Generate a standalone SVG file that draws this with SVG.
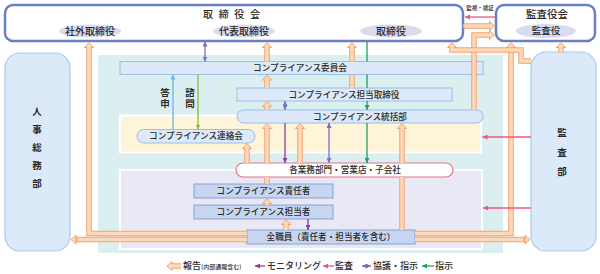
<svg xmlns="http://www.w3.org/2000/svg" width="600" height="274" viewBox="0 0 600 274">
<style>
text{font-family:'Noto Sans CJK JP','Noto Sans',sans-serif;fill:#2a2a2a;font-weight:500}
.m{text-anchor:middle}
.bar{fill:#dde9f8;stroke:#9ac0e4;stroke-width:1}
.bar2{fill:#c6d6f0;stroke:#8b9fd2;stroke-width:1}
.t{font-size:8.6px}
.side{fill:#dce9f8;stroke:#a8cbeb;stroke-width:1.2}
.vt{font-size:9.5px;font-weight:bold;text-anchor:middle}
.ell{fill:#dadbef}
.ro{fill:none;stroke:#f3a46c;stroke-width:5.5}
.ri{fill:none;stroke:#fdd8bb;stroke-width:3.5}
.hd{fill:#fdd8bb;stroke:#f3a46c;stroke-width:1}
.th{fill:none;stroke-width:1.3}
.lg{font-size:9px}
.vw{writing-mode:tb;font-size:9.5px;font-weight:bold;letter-spacing:1.5px}
</style>
<defs>
<marker id="mP" viewBox="0 0 6 6" refX="6" refY="3" markerWidth="5" markerHeight="5" markerUnits="userSpaceOnUse" orient="auto-start-reverse"><path d="M0,0 L6,3 L0,6 z" fill="#8d3d9b"/></marker>
<marker id="mV" viewBox="0 0 6 6" refX="6" refY="3" markerWidth="5" markerHeight="5" markerUnits="userSpaceOnUse" orient="auto-start-reverse"><path d="M0,0 L6,3 L0,6 z" fill="#7d6fbd"/></marker>
<marker id="mK" viewBox="0 0 6 6" refX="6" refY="3" markerWidth="5" markerHeight="5" markerUnits="userSpaceOnUse" orient="auto-start-reverse"><path d="M0,0 L6,3 L0,6 z" fill="#e8588a"/></marker>
<marker id="mG" viewBox="0 0 6 6" refX="6" refY="3" markerWidth="5" markerHeight="5" markerUnits="userSpaceOnUse" orient="auto-start-reverse"><path d="M0,0 L6,3 L0,6 z" fill="#1fa065"/></marker>
<marker id="mY" viewBox="0 0 6 6" refX="6" refY="3" markerWidth="5" markerHeight="5" markerUnits="userSpaceOnUse" orient="auto-start-reverse"><path d="M0,0 L6,3 L0,6 z" fill="#7fbf3f"/></marker>
<marker id="mB" viewBox="0 0 6 6" refX="6" refY="3" markerWidth="5" markerHeight="5" markerUnits="userSpaceOnUse" orient="auto-start-reverse"><path d="M0,0 L6,3 L0,6 z" fill="#6cb6e6"/></marker>
</defs>

<!-- background areas -->
<rect x="98" y="55" width="405" height="198" fill="#dbeef0"/>
<rect x="120" y="115.5" width="361" height="37" fill="#fdf4da" stroke="#fff" stroke-width="2"/>
<rect x="120" y="170" width="362" height="79" fill="#e9e9f5" stroke="#fff" stroke-width="2"/>

<g id="board">
<rect x="5" y="5" width="458" height="36" rx="8" fill="#fff" stroke="#6b80c4" stroke-width="2.5"/>
<text x="203" y="17.6" font-size="10" letter-spacing="1.7">取 締 役 会</text>
<ellipse class="ell" cx="90" cy="31" rx="31" ry="6.5"/>
<text class="m" x="90" y="34.6" font-size="10">社外取締役</text>
<ellipse class="ell" cx="244" cy="31" rx="31" ry="6.5"/>
<text class="m" x="244" y="34.6" font-size="10">代表取締役</text>
<ellipse class="ell" cx="391" cy="31" rx="31" ry="6.5"/>
<text class="m" x="391" y="34.6" font-size="10">取締役</text>
</g>
<g id="audit-board">
<rect x="496" y="5" width="99" height="36" rx="8" fill="#fff" stroke="#6b80c4" stroke-width="2.5"/>
<text class="m" x="547" y="17.8" font-size="10.5">監査役会</text>
<ellipse class="ell" cx="546" cy="31" rx="30" ry="7"/>
<text class="m" x="546" y="34.4" font-size="9.5">監査役</text>
</g>
<g id="hr">
<rect class="side" x="5" y="53" width="65" height="198" rx="15"/>
<text class="vt" x="37" y="115.4">人</text>
<text class="vt" x="37" y="133.4">事</text>
<text class="vt" x="37" y="151.4">総</text>
<text class="vt" x="37" y="169.4">務</text>
<text class="vt" x="37" y="187.4">部</text>
</g>
<g id="audit-dept">
<rect class="side" x="531" y="52" width="65" height="199" rx="15"/>
<text class="vt" x="562" y="136.4">監</text>
<text class="vt" x="562" y="156.4">査</text>
<text class="vt" x="562" y="175.4">部</text>
</g>
<g id="committee">
<rect class="bar" x="120" y="61.5" width="363" height="13"/>
<text class="m t" x="300" y="71.2">コンプライアンス委員会</text>
</g>
<g id="director">
<rect class="bar" x="237" y="88" width="215" height="13"/>
<text class="m t" x="344" y="97.7">コンプライアンス担当取締役</text>
</g>
<g id="control">
<rect class="bar" x="237" y="110" width="246" height="13" rx="6.5"/>
<text class="m t" x="360" y="119.7">コンプライアンス統括部</text>
</g>
<g id="liaison">
<rect class="bar" x="137" y="129.5" width="118" height="13.5" rx="6.75"/>
<text class="m t" x="196" y="139.4">コンプライアンス連絡会</text>
</g>
<g id="branches">
<rect x="236" y="163" width="217" height="14" rx="7" fill="#fff" stroke="#e8708e" stroke-width="1.2"/>
<text class="m t" x="345" y="173.2">各業務部門・営業店・子会社</text>
</g>
<g id="manager">
<rect class="bar2" x="194" y="184" width="139" height="14"/>
<text class="m t" x="263.5" y="194.2">コンプライアンス責任者</text>
</g>
<g id="officer">
<rect class="bar2" x="194" y="205" width="139" height="14"/>
<text class="m t" x="263.5" y="215.2">コンプライアンス担当者</text>
</g>
<g id="staff">
<rect class="bar2" x="247" y="230" width="168" height="14"/>
<text class="m t" x="331" y="240.2">全職員（責任者・担当者を含む）</text>
</g>

<g id="connectors">
<!-- report arrows (orange) -->
<path class="ro" d="M247,233.5 H89 V47.5"/><polygon class="hd" points="89,42.5 93.5,47.5 84.5,47.5"/><path class="ri" d="M247,233.5 H89 V46"/>
<path class="ro" d="M247,239.5 H76"/><polygon class="hd" points="71,239.5 76,235 76,244"/><path class="ri" d="M247,239.5 H77.5"/>
<path class="ro" d="M415,233.5 H511 V47.5"/><polygon class="hd" points="511,42.5 515.5,47.5 506.5,47.5"/><path class="ri" d="M415,233.5 H511 V46"/>
<path class="ro" d="M415,239.5 H525"/><polygon class="hd" points="530,239.5 525,235 525,244"/><path class="ri" d="M415,239.5 H523.5"/>
<path class="ro" d="M286,230 V224.5"/><polygon class="hd" points="286,219.5 290.5,224.5 281.5,224.5"/><path class="ri" d="M286,230 V223"/>
<path class="ro" d="M267,205 V203.5"/><polygon class="hd" points="267,198.5 271.5,203.5 262.5,203.5"/><path class="ri" d="M267,205 V202"/>
<path class="ro" d="M267,184 V177"/><path class="ri" d="M267,184 V177"/>
<path class="ro" d="M267,163 V128.5"/><polygon class="hd" points="267,123.5 271.5,128.5 262.5,128.5"/><path class="ri" d="M267,163 V127"/>
<path class="ro" d="M247,163 V148.5"/><polygon class="hd" points="247,143.5 251.5,148.5 242.5,148.5"/><path class="ri" d="M247,163 V147"/>
<path class="ro" d="M300,163 V128.5"/><polygon class="hd" points="300,123.5 304.5,128.5 295.5,128.5"/><path class="ri" d="M300,163 V127"/>
<path class="ro" d="M402,230 V177"/><path class="ri" d="M402,230 V177"/>
<path class="ro" d="M402,163 V128.5"/><polygon class="hd" points="402,123.5 406.5,128.5 397.5,128.5"/><path class="ri" d="M402,163 V127"/>
<path class="ro" d="M267,110 V106.5"/><polygon class="hd" points="267,101.5 271.5,106.5 262.5,106.5"/><path class="ri" d="M267,110 V105"/>
<path class="ro" d="M267,88 V80"/><polygon class="hd" points="267,75 271.5,80 262.5,80"/><path class="ri" d="M267,88 V78.5"/>
<path class="ro" d="M267,61.5 V47.5"/><polygon class="hd" points="267,42.5 271.5,47.5 262.5,47.5"/><path class="ri" d="M267,61.5 V46"/>
<path class="ro" d="M352,88 V75"/><path class="ri" d="M352,88 V75"/>
<path class="ro" d="M352,61.5 V47.5"/><polygon class="hd" points="352,42.5 356.5,47.5 347.5,47.5"/><path class="ri" d="M352,61.5 V46"/>
<path class="ro" d="M474,110 V35 H489.5"/><polygon class="hd" points="494.5,35 489.5,30.5 489.5,39.5"/><path class="ri" d="M474,110 V35 H491"/>
<path class="ro" d="M463.5,26 H489.5"/><polygon class="hd" points="494.5,26 489.5,21.5 489.5,30.5"/><path class="ri" d="M463.5,26 H491"/>
<path class="ro" d="M531,61 H521 V50 H452 V47.5"/><polygon class="hd" points="452,42.5 456.5,47.5 447.5,47.5"/><path class="ri" d="M531,61 H521 V50 H452 V46"/>
<path class="ro" d="M561,52.5 V47.5"/><polygon class="hd" points="561,42.5 565.5,47.5 556.5,47.5"/><path class="ri" d="M561,52.5 V46"/>

<!-- thin arrows -->
<path class="th" stroke="#6cb6e6" d="M173,129.5 V74.5" marker-end="url(#mB)"/>
<path class="th" stroke="#7fbf3f" d="M198,74.5 V129.5" marker-end="url(#mY)"/>
<path class="th" stroke="#7d6fbd" d="M205,41.5 V61.5" marker-start="url(#mV)" marker-end="url(#mV)"/>
<path class="th" stroke="#7d6fbd" d="M285,101 V110" marker-start="url(#mV)" marker-end="url(#mV)"/>
<path class="th" stroke="#8d3d9b" d="M285,123 V163" marker-end="url(#mP)"/>
<path class="th" stroke="#7d6fbd" d="M329,123 V163" marker-start="url(#mV)" marker-end="url(#mV)"/>
<path class="th" stroke="#1fa065" d="M367,41.5 V61.5 M367,74.5 V88"/>
<path class="th" stroke="#1fa065" d="M367,101 V110" marker-end="url(#mG)"/>
<path class="th" stroke="#1fa065" d="M367,123 V163" marker-end="url(#mG)"/>
<path class="th" stroke="#8d3d9b" d="M308,219 V230" marker-end="url(#mP)"/>
<path class="th" stroke="#e8588a" d="M531,137 H482.5" marker-end="url(#mK)"/>
<path class="th" stroke="#e8588a" d="M531,208 H483" marker-end="url(#mK)"/>
<path class="th" stroke="#e8588a" d="M495,17 H465" marker-end="url(#mK)"/>
</g>

<text class="vw" x="165" y="88">答申</text>
<text class="vw" x="190" y="88">諮問</text>
<text class="m" x="480" y="10.3" font-size="5.5">監視・検証</text>

<g id="legend">
<path class="ro" d="M181,266 H172"/><polygon class="hd" points="167,266 172,261.5 172,270.5"/><path class="ri" d="M181,266 H170.5"/>
<text class="lg" x="183" y="269.2">報告<tspan font-size="6">(内部通報含む)</tspan></text>
<path class="th" stroke="#8d3d9b" d="M265,266 H255" marker-end="url(#mP)"/>
<text class="lg" x="267" y="269.2">モニタリング</text>
<path class="th" stroke="#e8588a" d="M334,266 H323" marker-end="url(#mK)"/>
<text class="lg" x="335" y="269.2">監査</text>
<path class="th" stroke="#7d6fbd" d="M362,266 H371" marker-start="url(#mV)" marker-end="url(#mV)"/>
<text class="lg" x="373" y="269.2">協議・指示</text>
<path class="th" stroke="#1fa065" d="M434,266 H422" marker-end="url(#mG)"/>
<text class="lg" x="435" y="269.2">指示</text>
</g>
</svg>
